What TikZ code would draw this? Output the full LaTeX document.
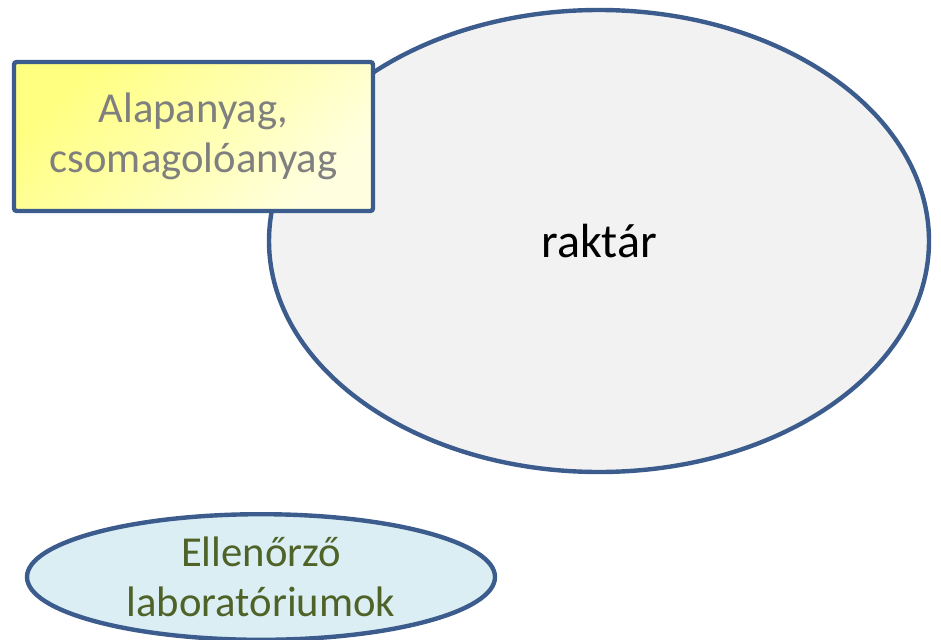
\documentclass[tikz,border=0pt]{standalone}
\usepackage{fontspec}
\setmainfont{Carlito}
\usetikzlibrary{shapes.geometric}
\definecolor{edgeblue}{RGB}{59,92,140}
\definecolor{storegray}{RGB}{242,242,242}
\definecolor{labblue}{RGB}{219,238,243}
\definecolor{textgray}{RGB}{127,127,127}
\definecolor{textolive}{RGB}{79,98,40}
\tikzset{
    unit/.style={draw=edgeblue, line width=3.3pt, font=\fontsize{32}{37.5}\selectfont, align=center},
    store/.style={unit, ellipse, fill=storegray, font=\fontsize{36}{43}\selectfont, minimum width=495pt, minimum height=346.5pt},
    supply/.style={unit, rectangle, rounded corners=2pt, shading=axis, top color=yellow!50, bottom color=yellow!12, shading angle=45, text=textgray, minimum width=269.25pt, minimum height=111.75pt},
    lab/.style={unit, ellipse, fill=labblue, text=textolive, minimum width=351pt, minimum height=88.5pt},
}

\begin{document}
\begin{tikzpicture}[x=0.75pt, y=-0.75pt]
        \useasboundingbox (0, 0) rectangle (941, 639);
        %storage
        \node[store] (raktar) at (599, 241) {raktár};
        %incoming materials
        \node[supply] (anyag) at (193.5, 136.5) {Alapanyag,\\csomagolóanyag};
        %control labs
        \node[lab] (labor) at (261, 577) {Ellenőrző\\laboratóriumok};
    \end{tikzpicture}
\end{document}
